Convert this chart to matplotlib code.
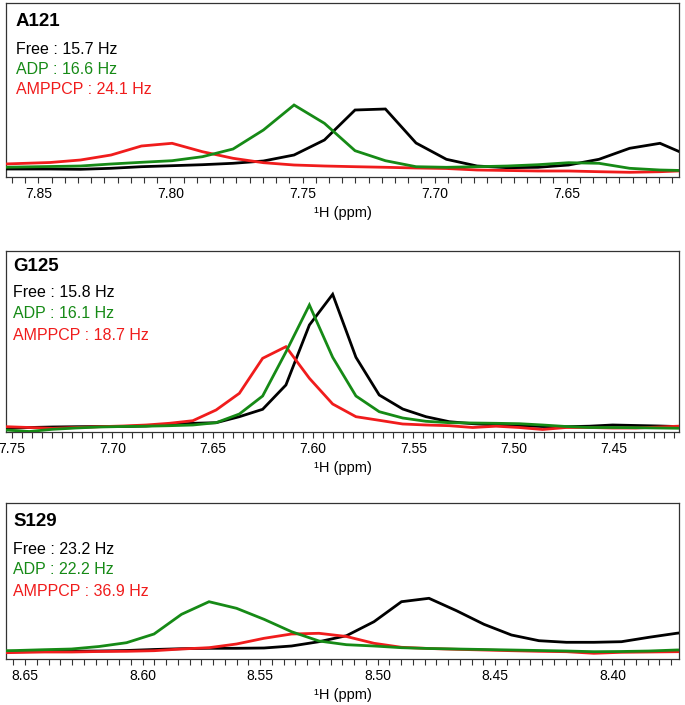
import matplotlib
matplotlib.use('Agg')
import matplotlib.pyplot as plt
from matplotlib.ticker import MultipleLocator, FormatStrFormatter

plt.rcParams['font.family'] = ['Liberation Sans', 'DejaVu Sans']

# ---------------- data ----------------
residues = ['A121', 'G125', 'S129']
free_hz = [15.7, 15.8, 23.2]
adp_hz = [16.6, 16.1, 22.2]
amppcp_hz = [24.1, 18.7, 36.9]

a121_ppm = [7.8688, 7.8572, 7.8456, 7.8341, 7.8225, 7.8110, 7.7994, 7.7879, 7.7763, 7.7648,
            7.7532, 7.7417, 7.7301, 7.7186, 7.7070, 7.6955, 7.6839, 7.6723, 7.6608, 7.6492,
            7.6377, 7.6261, 7.6146, 7.6030]
a121_free = [8, 8, 8, 7.7, 8.7, 10.3, 11.3, 12.3, 13.7, 16,
             22, 37, 67, 68, 34, 17.7, 11, 9.3, 9.7, 12,
             17.7, 28.7, 33.7, 20.5]
a121_adp = [9.5, 10, 10.5, 11, 13, 14.7, 16.3, 20.3, 28, 47,
            72, 53.7, 26.3, 16.3, 10.3, 9.7, 10.3, 11, 12.3, 14.3,
            13.7, 8.7, 7, 6.3]
a121_amppcp = [12.5, 13.5, 14.5, 17, 22, 31, 33.7, 25.3, 18.7, 14.3,
               12, 11, 10.3, 9.7, 9, 8.5, 7, 6.5, 6, 6,
               5.3, 4.7, 5.3, 6.5]

g125_ppm = [7.7646, 7.7530, 7.7414, 7.7297, 7.7181, 7.7065, 7.6948, 7.6832, 7.6716, 7.6599,
            7.6483, 7.6367, 7.6251, 7.6135, 7.6018, 7.5902, 7.5786, 7.5670, 7.5553, 7.5437,
            7.5321, 7.5204, 7.5088, 7.4972, 7.4856, 7.4739, 7.4623, 7.4507, 7.4391, 7.4275,
            7.4158]
g125_free = [4, 3.7, 4.5, 5, 5.3, 5.5, 5.5, 6, 7.5, 8.7,
             9.3, 15.3, 22.7, 47, 107, 137.7, 74.7, 37, 23, 15.3,
             10.3, 8.3, 7, 6.3, 5.5, 5.3, 5.8, 7, 6.5, 6,
             5.3]
g125_adp = [2.5, 2, 0.5, 2.7, 4, 5, 5.5, 5.8, 6.3, 7,
            9.3, 18, 36, 80, 127, 74.7, 36, 20.3, 14, 10.7,
            9.3, 9, 8.7, 8.3, 7, 5.5, 4.5, 4.5, 4.3, 4,
            3.7]
g125_amppcp = [5.5, 5.3, 4.5, 3.7, 4.5, 5.3, 6, 7, 8.7, 11.3,
               22, 38.7, 73.7, 85.3, 53.7, 28, 15.3, 11.7, 8, 7,
               6.3, 4.5, 5.8, 4.5, 2.5, 4.5, 4.5, 4, 4, 5,
               6]

s129_ppm = [8.6653, 8.6536, 8.6419, 8.6302, 8.6185, 8.6068, 8.5951, 8.5834, 8.5717, 8.5600,
            8.5483, 8.5366, 8.5249, 8.5132, 8.5015, 8.4898, 8.4781, 8.4664, 8.4547, 8.4430,
            8.4313, 8.4196, 8.4079, 8.3962, 8.3845, 8.3728, 8.3611]
s129_free = [7, 7.3, 7.5, 7.8, 8, 8.5, 9.5, 10.3, 10.7, 10.7,
             11, 13, 17.3, 23.3, 37.3, 57.3, 60.7, 48.3, 34.7, 24,
             18.3, 16.7, 16.7, 17.3, 21.7, 25.7, 29]
s129_adp = [8, 8.5, 9.3, 10, 12.5, 16.3, 25, 44.7, 57.3, 50.7,
            39.7, 27.3, 18, 14.3, 13, 11.3, 10.5, 10, 9.5, 9,
            8.5, 8, 7.3, 7.5, 8, 9, 9.3]
s129_amppcp = [6, 6.5, 7, 7, 7.5, 7.7, 8.3, 10, 11.3, 15,
               20.7, 25, 25.7, 22.5, 15.7, 11.7, 10.5, 9.7, 9, 8.3,
               7.7, 7.3, 5.7, 6.7, 7, 7.3, 7.5]

panels = [
    (a121_ppm, a121_free, a121_adp, a121_amppcp),
    (g125_ppm, g125_free, g125_adp, g125_amppcp),
    (s129_ppm, s129_free, s129_adp, s129_amppcp),
]

# ---------------- styling / layout ----------------
BLACK = '#000000'
GREEN = '#168a16'
RED = '#f01c1c'

W, H = 685, 705
boxes = [(6, 3, 679, 177), (6, 251, 679, 432), (6, 503, 679, 659)]
xlims = [(7.8623, 7.6074), (7.753, 7.4176), (8.6581, 8.3717)]
title_off = [(10, -18), (7, -15.5), (7, -18)]
line_offs = [(-47, -67, -86), (-41.5, -63, -84.5), (-46, -67, -88)]

fig = plt.figure(figsize=(W / 100, H / 100), dpi=100)

for i, (ppm, free, adp, amp) in enumerate(panels):
    l, t, r, b = boxes[i]
    ax = fig.add_axes([l / W, 1 - b / H, (r - l) / W, (b - t) / H])
    ax.plot(ppm, free, color=BLACK, lw=2.0, solid_joinstyle='miter', zorder=3)
    ax.plot(ppm, amp, color=RED, lw=2.0, solid_joinstyle='miter', zorder=4)
    ax.plot(ppm, adp, color=GREEN, lw=2.0, solid_joinstyle='miter', zorder=5)
    ax.set_xlim(*xlims[i])
    ax.set_ylim(0, b - t)
    ax.set_yticks([])
    ax.xaxis.set_major_locator(MultipleLocator(0.05))
    ax.xaxis.set_minor_locator(MultipleLocator(0.005))
    ax.xaxis.set_major_formatter(FormatStrFormatter('%.2f'))
    ax.tick_params(axis='x', which='both', direction='out', length=4, width=0.8,
                   color='#333333', labelsize=10, pad=3, top=False)
    for sp in ax.spines.values():
        sp.set_linewidth(0.9)
        sp.set_color('#333333')
    ax.set_xlabel('\u00b9H (ppm)', fontsize=10.5, labelpad=3.5)

    tx, ty = title_off[i]
    ax.annotate(residues[i], xy=(0, 1), xycoords='axes fraction', xytext=(tx, ty),
                textcoords='offset pixels', ha='left', va='center',
                fontsize=13.5, fontweight='bold', color=BLACK)
    labels = [('Free : %.1f Hz' % free_hz[i], BLACK),
              ('ADP : %.1f Hz' % adp_hz[i], GREEN),
              ('AMPPCP : %.1f Hz' % amppcp_hz[i], RED)]
    for (txt, col), oy in zip(labels, line_offs[i]):
        ax.annotate(txt, xy=(0, 1), xycoords='axes fraction', xytext=(tx, oy),
                    textcoords='offset pixels', ha='left', va='center',
                    fontsize=11.5, color=col)

fig.savefig('out.png', dpi=100)
